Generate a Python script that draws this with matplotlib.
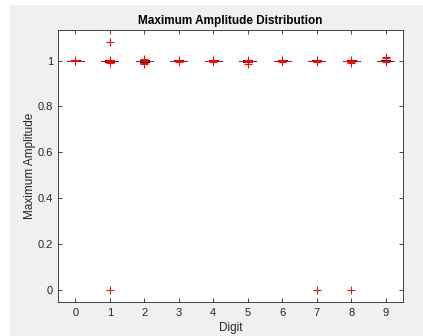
import matplotlib
matplotlib.use('Agg')
import matplotlib.pyplot as plt
from matplotlib.patches import Rectangle

plt.rcParams['font.family'] = ['Liberation Sans', 'DejaVu Sans']

digits = [0, 1, 2, 3, 4, 5, 6, 7, 8, 9]
medians = [1.0, 1.0, 1.0, 1.0, 1.0, 1.0, 1.0, 1.0, 1.0, 1.0]
q1 = [0.999, 0.998, 0.999, 0.999, 0.999, 0.998, 0.999, 0.999, 0.999, 0.999]
q3 = [1.0, 1.0, 1.0, 1.0, 1.0, 1.0, 1.0, 1.0, 1.0, 1.0]
whis_lo = [0.997, 0.996, 0.996, 0.997, 0.997, 0.996, 0.997, 0.997, 0.997, 0.997]
whis_hi = [1.001, 1.001, 1.001, 1.001, 1.001, 1.001, 1.001, 1.001, 1.001, 1.001]
outliers = [
    [0.997, 1.003, 1.0],
    [1.08, 0.0, 0.99, 0.995, 1.005, 0.998],
    [0.985, 0.99, 1.008, 1.003],
    [0.993, 1.004, 0.997],
    [0.996, 1.004],
    [0.985, 0.993, 1.004],
    [0.995, 1.004],
    [0.0, 0.995, 1.004],
    [0.0, 0.99, 1.004, 0.994],
    [1.018, 1.01, 0.993],
]

stats = []
for i in range(len(digits)):
    stats.append(dict(med=medians[i], q1=q1[i], q3=q3[i],
                      whislo=whis_lo[i], whishi=whis_hi[i],
                      fliers=outliers[i]))

fig = plt.figure(figsize=(4.23, 3.36), dpi=100, facecolor='white')
fig.patches.append(Rectangle((10 / 423, 0), 1, 331 / 336, transform=fig.transFigure,
                             facecolor='#f0f0f0', edgecolor='none', zorder=-1))
ax = fig.add_axes([58 / 423, 34 / 336, 345 / 423, 272 / 336])

ax.bxp(stats, positions=digits, widths=0.5,
       boxprops=dict(color='blue', linewidth=0.7),
       medianprops=dict(color='red', linewidth=0.7),
       whiskerprops=dict(color='black', linestyle='--', linewidth=0.7),
       capprops=dict(color='black', linewidth=0.7),
       flierprops=dict(marker='+', markeredgecolor='red', markersize=6,
                       markeredgewidth=0.7, linestyle='none', zorder=3))

ax.set_xlim(-0.5, 9.5)
ax.set_ylim(-0.054, 1.134)
ax.set_xticks(digits)
ax.set_xticklabels([str(d) for d in digits])
ax.set_yticks([0, 0.2, 0.4, 0.6, 0.8, 1])
ax.set_yticklabels(['0', '0.2', '0.4', '0.6', '0.8', '1'])

txt = '#262626'
ax.tick_params(direction='in', top=True, right=True, length=3, width=0.6,
               labelsize=8, colors=txt, pad=3.5)
ax.tick_params(axis='x', pad=4)
for s in ax.spines.values():
    s.set_color(txt)
    s.set_linewidth(0.6)

ax.set_title('Maximum Amplitude Distribution', fontsize=8.5, fontweight='bold',
             color='black', pad=4)
ax.set_xlabel('Digit', fontsize=8.5, color=txt, labelpad=3)
ax.set_ylabel('Maximum Amplitude', fontsize=8.5, color=txt, labelpad=1)

fig.savefig('out.png', dpi=100, facecolor=fig.get_facecolor())
